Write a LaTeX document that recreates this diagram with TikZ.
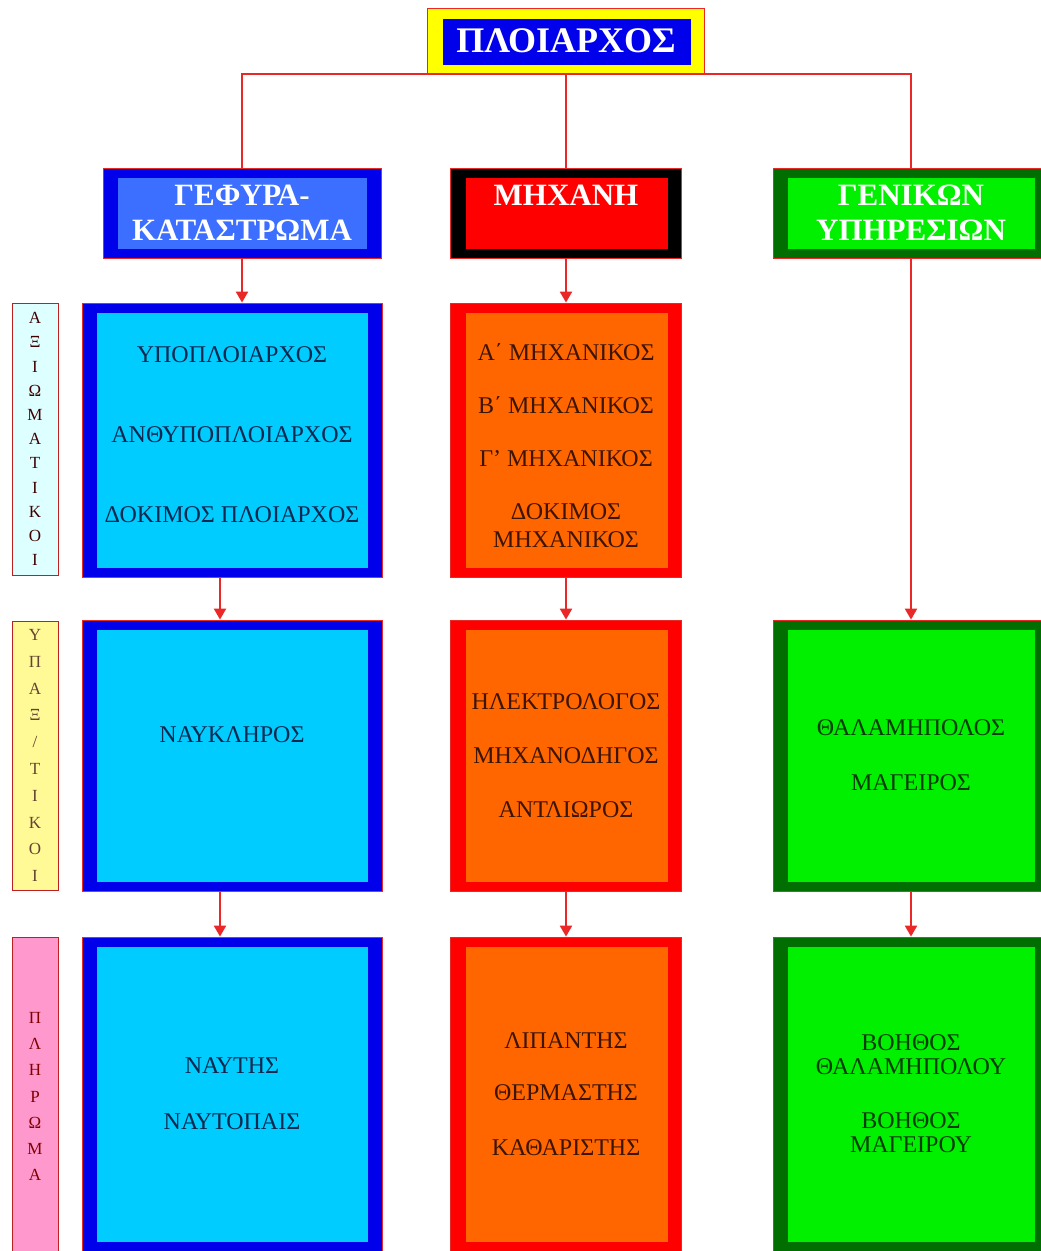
\documentclass[tikz,border=0pt]{standalone}
\usepackage{fontspec}
\setmainfont{Liberation Serif}
\usetikzlibrary{arrows.meta}

\definecolor{linered}{RGB}{235,40,40}
\definecolor{navyblue}{RGB}{0,0,235}
\definecolor{royal}{RGB}{60,110,255}
\definecolor{skycyan}{RGB}{0,204,255}
\definecolor{chiefyellow}{RGB}{255,255,0}
\definecolor{engred}{RGB}{255,0,0}
\definecolor{engorange}{RGB}{255,102,0}
\definecolor{darkgreen}{RGB}{0,110,0}
\definecolor{lightgreen}{RGB}{0,240,0}
\definecolor{palecyan}{RGB}{222,255,255}
\definecolor{paleyellow}{RGB}{255,250,150}
\definecolor{palepink}{RGB}{255,152,205}
\definecolor{txtblue}{RGB}{10,40,80}
\definecolor{txtbrown}{RGB}{60,20,0}
\definecolor{txtgreen}{RGB}{0,60,0}

\begin{document}
\begin{tikzpicture}[x=1pt, y=-1pt,
  panel/.style n args={2}{draw=linered, line width=0.8pt, fill=#1, inner sep=0pt,
    path picture={\fill[#2] ([xshift=15pt,yshift=-10pt]path picture bounding box.north west)
      rectangle ([xshift=-14pt,yshift=9pt]path picture bounding box.south east);}},
  head/.style={text=white, align=center, font=\fontsize{31}{35}\selectfont\bfseries},
  body/.style={align=center, font=\fontsize{24}{30}\selectfont},
  side/.style={draw=linered!80!black, line width=0.8pt, minimum width=46pt, inner sep=0pt,
    align=center, font=\fontsize{17}{24.2}\selectfont},
  link/.style={draw=linered, line width=2.2pt},
  arr/.style={link, -{Triangle[width=12pt,length=11pt]}}]

\path[use as bounding box] (0,0) rectangle (1041,1251);
\clip (0,0) rectangle (1041,1251);

% master and departments
\node[panel={chiefyellow}{navyblue}, head, font=\fontsize{36}{40}\selectfont\bfseries,
  minimum width=277pt, minimum height=65pt] (chief) at (566,41) {ΠΛΟΙΑΡΧΟΣ};

\node[panel={navyblue}{royal}, head, minimum width=278pt, minimum height=90pt] (bridge) at (242,213) {ΓΕΦΥΡΑ-\\ΚΑΤΑΣΤΡΩΜΑ};
\node[panel={black}{engred}, head, minimum width=231pt, minimum height=90pt] (mech) at (566,213) {ΜΗΧΑΝΗ\\\mbox{}};
\node[panel={darkgreen}{lightgreen}, head, minimum width=276pt, minimum height=90pt] (gen) at (911,213) {ΓΕΝΙΚΩΝ\\ΥΠΗΡΕΣΙΩΝ};

% rank labels
\node[side, fill=palecyan, text=black!75!red, minimum height=272pt] (lblofc) at (35,439)
  {Α\\Ξ\\Ι\\Ω\\Μ\\Α\\Τ\\Ι\\Κ\\Ο\\Ι};
\node[side, fill=paleyellow, text=txtbrown!80, font=\fontsize{17}{26.8}\selectfont, minimum height=269pt] (lblpo) at (35,755.5)
  {Υ\\Π\\Α\\Ξ\\/\\Τ\\Ι\\Κ\\Ο\\Ι};
\node[side, fill=palepink, text=red!50!black, font=\fontsize{17}{26.3}\selectfont, minimum height=319pt] (lblcrew) at (35,1096.5)
  {Π\\Λ\\Η\\Ρ\\Ω\\Μ\\Α};

% officers
\node[panel={navyblue}{skycyan}, body, text=txtblue, minimum width=300pt, minimum height=274pt] (b1) at (232,440)
  {ΥΠΟΠΛΟΙΑΡΧΟΣ\\[50pt]ΑΝΘΥΠΟΠΛΟΙΑΡΧΟΣ\\[50pt]ΔΟΚΙΜΟΣ ΠΛΟΙΑΡΧΟΣ\\[-20pt]\mbox{}};
\node[panel={engred}{engorange}, body, text=txtbrown, minimum width=231pt, minimum height=274pt] (m1) at (566,440)
  {\mbox{}\\[-1pt]Α΄ ΜΗΧΑΝΙΚΟΣ\\[23pt]Β΄ ΜΗΧΑΝΙΚΟΣ\\[23pt]Γ’ ΜΗΧΑΝΙΚΟΣ\\[23pt]ΔΟΚΙΜΟΣ\\[-2pt]ΜΗΧΑΝΙΚΟΣ};

% petty officers
\node[panel={navyblue}{skycyan}, body, text=txtblue, minimum width=300pt, minimum height=271pt] (b2) at (232,755.5)
  {ΝΑΥΚΛΗΡΟΣ\\[12pt]\mbox{}};
\node[panel={engred}{engorange}, body, text=txtbrown, minimum width=231pt, minimum height=271pt] (m2) at (566,755.5)
  {ΗΛΕΚΤΡΟΛΟΓΟΣ\\[24pt]ΜΗΧΑΝΟΔΗΓΟΣ\\[24pt]ΑΝΤΛΙΩΡΟΣ};
\node[panel={darkgreen}{lightgreen}, body, text=txtgreen, minimum width=276pt, minimum height=271pt] (g2) at (911,755.5)
  {ΘΑΛΑΜΗΠΟΛΟΣ\\[25pt]ΜΑΓΕΙΡΟΣ};

% crew
\node[panel={navyblue}{skycyan}, body, text=txtblue, minimum width=300pt, minimum height=314pt] (b3) at (232,1094)
  {ΝΑΥΤΗΣ\\[26pt]ΝΑΥΤΟΠΑΙΣ};
\node[panel={engred}{engorange}, body, text=txtbrown, minimum width=231pt, minimum height=314pt] (m3) at (566,1094)
  {ΛΙΠΑΝΤΗΣ\\[22pt]ΘΕΡΜΑΣΤΗΣ\\[25pt]ΚΑΘΑΡΙΣΤΗΣ};
\node[panel={darkgreen}{lightgreen}, body, text=txtgreen, minimum width=276pt, minimum height=314pt] (g3) at (911,1094)
  {ΒΟΗΘΟΣ\\[-6pt]ΘΑΛΑΜΗΠΟΛΟΥ\\[24pt]ΒΟΗΘΟΣ\\[-6pt]ΜΑΓΕΙΡΟΥ};

% connectors
\draw[link] (chief.south) -- (mech.north);
\draw[link] (chief.south) -| (bridge.north);
\draw[link] (chief.south) -| (gen.north);
\draw[arr] (bridge.south) -- (bridge.south |- b1.north);
\draw[arr] (mech.south) -- (m1.north);
\draw[arr] (gen.south) -- (g2.north);
\draw[arr] ([xshift=-12pt]b1.south) -- ([xshift=-12pt]b2.north);
\draw[arr] ([xshift=-12pt]b2.south) -- ([xshift=-12pt]b3.north);
\draw[arr] (m1.south) -- (m2.north);
\draw[arr] (m2.south) -- (m3.north);
\draw[arr] (g2.south) -- (g3.north);
\end{tikzpicture}
\end{document}
